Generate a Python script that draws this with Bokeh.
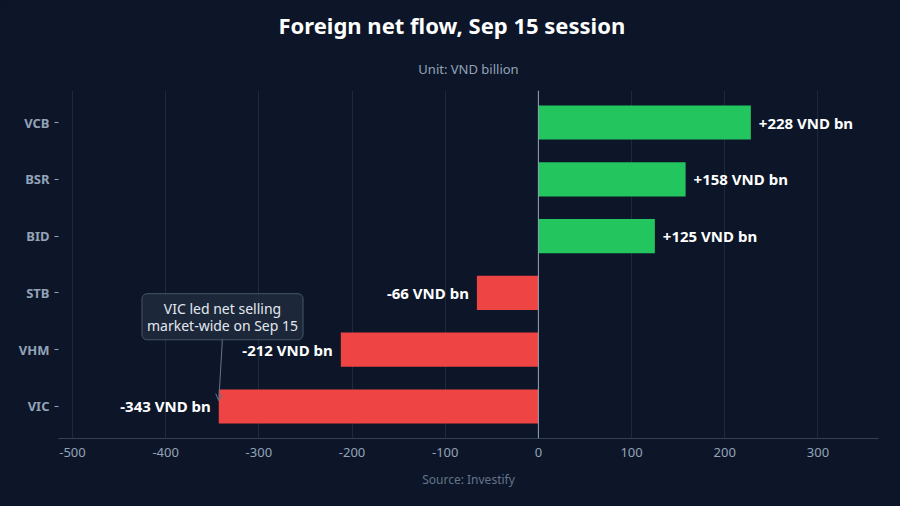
from bokeh.models import (FactorRange, Range1d, Span, Label, Arrow, OpenHead,
                          Title, FixedTicker, ColumnDataSource, PrintfTickFormatter)
from bokeh.core.properties import value
from bokeh.plotting import figure
from bokeh.embed import file_html
from bokeh.resources import INLINE

tickers = ["VIC", "VHM", "STB", "BID", "BSR", "VCB"]
flows = [-343, -212, -66, 125, 158, 228]
x_ticks = [-500, -400, -300, -200, -100, 0, 100, 200, 300]

BG = "#0c1628"
GREEN = "#22c55e"
RED = "#ef4444"
FONT = "Noto Sans"

colors = [GREEN if v > 0 else RED for v in flows]
labels = [("+%d VND bn" % v) if v > 0 else ("%d VND bn" % v) for v in flows]
src = ColumnDataSource(dict(t=tickers, v=flows, c=colors, lab=labels))

p = figure(y_range=FactorRange(*tickers), x_range=Range1d(-515, 365),
           width=900, height=506, output_backend="svg", toolbar_location=None,
           background_fill_color=BG, border_fill_color=BG,
           min_border_left=58, min_border_right=22, min_border_top=90,
           min_border_bottom=68)
p.styles = {"background-color": BG}
p.outline_line_color = None
p.y_range.range_padding = 0.065
p.y_range.range_padding_units = "absolute"

p.title.text = "Foreign net flow, Sep 15 session"
p.title.text_font = FONT
p.title.text_font_size = "22px"
p.title.text_color = "#ffffff"
p.title.align = "left"
p.title.offset = 220
p.add_layout(Title(text="Unit: VND billion", align="center", text_font=FONT,
                   text_font_size="13px", text_font_style="normal",
                   text_color="#94a3b8", padding=8), "above")
p.add_layout(Title(text="Source: Investify", align="center", text_font=FONT,
                   text_font_size="12px", text_font_style="normal",
                   text_color="#64748b", padding=4), "below")

p.hbar(y="t", right="v", left=0, height=0.6, fill_color="c", line_color=None, source=src)

pos = ColumnDataSource(dict(t=tickers[3:], v=flows[3:], lab=labels[3:]))
neg = ColumnDataSource(dict(t=tickers[:3], v=flows[:3], lab=labels[:3]))
p.text(x="v", y="t", text="lab", source=pos, x_offset=8, text_align="left",
       text_baseline="middle", text_color="#ffffff", text_font=value(FONT),
       text_font_size="15px", text_font_style="bold")
p.text(x="v", y="t", text="lab", source=neg, x_offset=-8, text_align="right",
       text_baseline="middle", text_color="#ffffff", text_font=value(FONT),
       text_font_size="15px", text_font_style="bold")

p.add_layout(Span(location=0, dimension="height", line_color="#94a3b8", line_width=1))

note = Label(x=-339, y=2.08, text="VIC led net selling\nmarket-wide on Sep 15",
             text_align="center", text_baseline="middle", text_font=FONT,
             text_font_size="14px", text_color="#e2e8f0", text_line_height=0.9,
             background_fill_color="#1e293b", background_fill_alpha=0.9,
             border_line_color="#475569", border_line_width=1,
             padding=5, border_radius=5)
p.add_layout(Arrow(x_start=-339, y_start=1.71, x_end=-343, y_end=0.6,
                   line_color="#64748b", line_width=1,
                   end=OpenHead(size=7, line_color="#64748b", line_width=1)))
p.add_layout(note)

p.xaxis.ticker = FixedTicker(ticks=x_ticks)
p.xaxis.formatter = PrintfTickFormatter(format="%d")
p.xaxis.axis_line_color = "#334155"
p.xaxis.major_tick_line_color = None
p.xaxis.minor_tick_line_color = None
p.xaxis.major_label_standoff = 3
p.xaxis.major_label_text_color = "#94a3b8"
p.xaxis.major_label_text_font = FONT
p.xaxis.major_label_text_font_size = "13px"

p.yaxis.axis_line_color = None
p.yaxis.major_tick_line_color = "#94a3b8"
p.yaxis.major_tick_out = 4
p.yaxis.major_tick_in = 0
p.yaxis.major_label_standoff = 5
p.yaxis.major_label_text_color = "#94a3b8"
p.yaxis.major_label_text_font = FONT
p.yaxis.major_label_text_font_size = "13px"
p.yaxis.major_label_text_font_style = "bold"

p.xgrid.grid_line_color = "#1e293b"
p.ygrid.grid_line_color = None

html = file_html(p, INLINE)
html = html.replace("</head>", "<style>html,body{margin:0;background:%s;}</style></head>" % BG, 1)
open("out.html", "w").write(html)
